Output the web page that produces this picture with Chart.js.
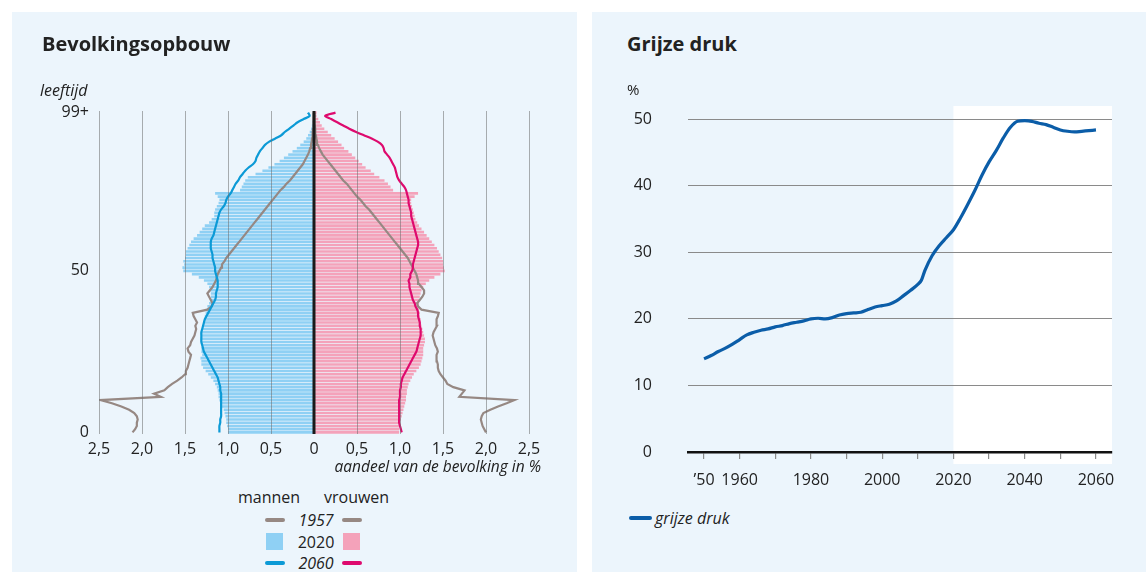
<!DOCTYPE html>
<html><head><meta charset="utf-8">
<script src="https://cdn.jsdelivr.net/npm/chart.js@4.4.1/dist/chart.umd.min.js"></script>
<style>
html,body{margin:0;padding:0;background:#fff;width:1146px;height:572px;overflow:hidden;font-family:"Open Sans",sans-serif;color:#222;}
.panel{position:absolute;background:#ECF5FC;}
#p1{left:12px;top:12px;width:565px;height:560px;}
#p2{left:592px;top:12px;width:554px;height:560px;}
.t{position:absolute;white-space:nowrap;line-height:1;}
.i{font-style:italic;}
canvas{position:absolute;}
.sw{position:absolute;}
</style></head><body>
<div class="panel" id="p1"></div><div class="panel" id="p2"></div>
<canvas id="c1" width="580" height="480" style="left:0;top:0;width:580px;height:480px"></canvas>
<canvas id="c2" width="554" height="440" style="left:592px;top:60px;width:554px;height:440px"></canvas>

<div class="t" style="left:42px;top:34px;font-size:20px;font-weight:700">Bevolkingsopbouw</div>
<div class="t" style="left:627px;top:34px;font-size:20px;font-weight:700">Grijze druk</div>
<div class="t i" style="left:40px;top:82px;font-size:16px">leeftijd</div>
<div class="t i" style="left:331px;top:459px;width:210px;text-align:right;font-size:15.5px">aandeel van de bevolking in %</div>
<div class="t" style="left:627px;top:82px;font-size:15px">%</div>

<div class="t" style="left:238px;top:489px;font-size:16px">mannen</div>
<div class="t" style="left:324px;top:489px;font-size:16px">vrouwen</div>
<div class="sw" style="left:265px;top:518px;width:20px;height:4px;background:#968883;border-radius:2px"></div>
<div class="t i" style="left:295px;top:512px;width:42px;text-align:center;font-size:16px">1957</div>
<div class="sw" style="left:342px;top:518px;width:20px;height:4px;background:#968883;border-radius:2px"></div>
<div class="sw" style="left:266px;top:533px;width:17px;height:17px;background:#8fd0f4"></div>
<div class="t" style="left:295px;top:534px;width:42px;text-align:center;font-size:16px">2020</div>
<div class="sw" style="left:343px;top:533px;width:17px;height:17px;background:#f4a2ba"></div>
<div class="sw" style="left:265px;top:561px;width:20px;height:4px;background:#0c9ad6;border-radius:2px"></div>
<div class="t i" style="left:295px;top:555px;width:42px;text-align:center;font-size:16px">2060</div>
<div class="sw" style="left:342px;top:561px;width:20px;height:4px;background:#de0a6e;border-radius:2px"></div>

<div class="sw" style="left:629px;top:516px;width:23px;height:4px;background:#0b5da8;border-radius:2px"></div>
<div class="t i" style="left:655px;top:510px;font-size:16px">grijze druk</div>

<script>
// ---------- Bevolkingsopbouw data (share of population in %, by age 0..99+) ----------
const ages = Array.from({length:100},(_, i)=> i===99 ? '99+' : String(i));
const ageTickLabels = {0:'0', 50:'50', 99:'99+'};

const men2020 = [1.00,1.00,1.01,1.02,1.02,1.03,1.04,1.05,1.07,1.08,
 1.10,1.11,1.11,1.12,1.13,1.15,1.17,1.20,1.23,1.26,
 1.29,1.31,1.31,1.32,1.30,1.31,1.31,1.30,1.31,1.32,
 1.31,1.31,1.30,1.29,1.29,1.28,1.27,1.26,1.25,1.24,
 1.22,1.21,1.20,1.20,1.21,1.22,1.24,1.28,1.34,1.42,
 1.52,1.53,1.51,1.52,1.50,1.49,1.49,1.47,1.45,1.43,
 1.40,1.36,1.33,1.30,1.27,1.22,1.19,1.16,1.16,1.15,
 1.13,1.11,1.10,1.12,1.15,0.86,0.84,0.82,0.80,0.77,
 0.68,0.60,0.53,0.46,0.40,0.35,0.30,0.25,0.20,0.16,
 0.12,0.09,0.07,0.05,0.035,0.025,0.018,0.012,0.008,0.01];
const women2020 = [0.99,0.99,1.00,1.00,1.01,1.02,1.03,1.04,1.05,1.06,
 1.07,1.07,1.08,1.08,1.09,1.10,1.12,1.14,1.16,1.19,
 1.22,1.24,1.25,1.26,1.27,1.27,1.27,1.28,1.29,1.29,
 1.28,1.27,1.26,1.25,1.24,1.24,1.23,1.23,1.22,1.22,
 1.22,1.22,1.23,1.24,1.25,1.27,1.30,1.34,1.40,1.47,
 1.52,1.51,1.50,1.50,1.49,1.47,1.45,1.43,1.40,1.37,
 1.34,1.31,1.28,1.25,1.22,1.20,1.18,1.17,1.16,1.15,
 1.14,1.13,1.13,1.17,1.21,0.92,0.89,0.86,0.82,0.76,
 0.70,0.66,0.60,0.56,0.52,0.48,0.44,0.40,0.35,0.32,
 0.28,0.24,0.20,0.16,0.12,0.09,0.07,0.05,0.03,0.03];
const men1957 = [2.11,2.08,2.06,2.06,2.05,2.06,2.09,2.15,2.24,2.35,
 2.48,1.78,1.86,1.74,1.70,1.65,1.59,1.54,1.50,1.49,
 1.47,1.46,1.45,1.44,1.43,1.46,1.47,1.44,1.43,1.41,
 1.39,1.38,1.37,1.38,1.36,1.38,1.40,1.41,1.24,1.19,
 1.18,1.20,1.22,1.24,1.21,1.18,1.16,1.14,1.13,1.12,
 1.10,1.08,1.07,1.04,1.02,0.99,0.96,0.93,0.90,0.87,
 0.84,0.81,0.78,0.75,0.72,0.69,0.66,0.63,0.60,0.57,
 0.54,0.51,0.48,0.45,0.42,0.39,0.35,0.32,0.28,0.25,
 0.22,0.19,0.16,0.13,0.11,0.09,0.07,0.055,0.045,0.035,
 0.028,0.022,0.018,0.014,0.01,0.008,0.006,0.004,0.003,0.002];
const women1957 = [2.00,1.98,1.96,1.95,1.94,1.95,1.97,2.05,2.14,2.24,
 2.33,1.69,1.72,1.75,1.62,1.55,1.53,1.50,1.47,1.45,
 1.44,1.44,1.43,1.42,1.43,1.44,1.43,1.41,1.40,1.39,
 1.38,1.39,1.41,1.43,1.42,1.43,1.44,1.45,1.25,1.21,
 1.20,1.23,1.26,1.28,1.28,1.25,1.22,1.21,1.20,1.19,
 1.17,1.15,1.13,1.11,1.09,1.06,1.03,1.00,0.97,0.94,
 0.91,0.88,0.85,0.82,0.79,0.76,0.73,0.70,0.67,0.64,
 0.60,0.57,0.54,0.50,0.47,0.44,0.41,0.38,0.34,0.31,
 0.28,0.25,0.22,0.19,0.16,0.13,0.10,0.08,0.06,0.045,
 0.035,0.028,0.022,0.017,0.013,0.01,0.008,0.006,0.004,0.003];
const men2060 = [1.10,1.10,1.10,1.09,1.09,1.08,1.08,1.08,1.08,1.08,
 1.08,1.08,1.08,1.09,1.09,1.10,1.11,1.12,1.14,1.16,
 1.18,1.20,1.22,1.24,1.26,1.28,1.29,1.30,1.31,1.31,
 1.31,1.31,1.30,1.29,1.28,1.27,1.25,1.23,1.21,1.19,
 1.17,1.15,1.14,1.14,1.13,1.12,1.12,1.12,1.13,1.14,
 1.15,1.15,1.16,1.17,1.18,1.18,1.19,1.20,1.20,1.20,
 1.19,1.17,1.16,1.15,1.14,1.13,1.12,1.11,1.10,1.08,
 1.05,1.03,1.02,1.00,0.97,0.95,0.93,0.91,0.88,0.86,
 0.83,0.80,0.76,0.71,0.68,0.67,0.65,0.63,0.60,0.57,
 0.52,0.45,0.38,0.34,0.29,0.24,0.19,0.12,0.05,0.07];
const women2060 = [1.02,1.01,1.00,0.99,0.99,0.99,0.99,0.99,0.99,0.99,
 0.99,1.00,1.00,1.00,1.01,1.01,1.02,1.03,1.05,1.07,
 1.09,1.11,1.13,1.15,1.17,1.19,1.20,1.21,1.22,1.23,
 1.24,1.24,1.24,1.23,1.23,1.22,1.21,1.21,1.20,1.18,
 1.17,1.15,1.14,1.13,1.12,1.11,1.11,1.10,1.12,1.12,
 1.14,1.15,1.15,1.16,1.17,1.18,1.19,1.20,1.21,1.21,
 1.20,1.19,1.18,1.17,1.16,1.15,1.14,1.13,1.13,1.12,
 1.11,1.10,1.10,1.09,1.08,1.07,1.05,1.02,0.99,0.97,
 0.96,0.95,0.94,0.92,0.90,0.88,0.85,0.82,0.81,0.79,
 0.74,0.67,0.58,0.49,0.41,0.34,0.27,0.20,0.13,0.25];
const pyramidTicks = [-2.5,-2,-1.5,-1,-0.5,0,0.5,1,1.5,2,2.5];

// ---------- Grijze druk data ----------
const years = [1950,1952,1954,1956,1958,1960,1962,1964,1966,1968,1970,1972,1974,1976,1978,
 1980,1982,1984,1986,1988,1990,1992,1994,1996,1998,2000,2002,2004,2006,2008,2010,2011,2012,
 2014,2016,2018,2020,2022,2024,2026,2028,2030,2032,2034,2036,2038,2040,2042,2044,2046,2048,
 2050,2052,2054,2056,2058,2060];
const grijzeDruk = [14.0,14.5,15.1,15.6,16.2,16.9,17.6,18.0,18.3,18.5,18.8,19.0,19.3,19.5,19.7,
 20.0,20.1,20.0,20.2,20.6,20.8,20.9,21.0,21.4,21.8,22.0,22.2,22.7,23.5,24.3,25.2,25.8,27.3,
 29.5,31.0,32.2,33.4,35.2,37.2,39.3,41.6,43.6,45.3,47.2,48.8,49.7,49.8,49.7,49.4,49.2,48.8,
 48.4,48.2,48.1,48.2,48.3,48.4];
const yearTickLabels = {1950:'\u201950',1960:'1960',1980:'1980',2000:'2000',2020:'2020',2040:'2040',2060:'2060'};
const projectionStart = 2020;

const FONT = '"Open Sans", sans-serif';
const TXT = '#222';

// ---------- Chart 1 ----------
const centerLine = {
  id:'centerLine',
  afterDatasetsDraw(chart){
    const {ctx, chartArea:a, scales:{x}} = chart;
    const px = x.getPixelForValue(0);
    ctx.save(); ctx.strokeStyle='#1a1a1a'; ctx.lineWidth=3;
    ctx.beginPath(); ctx.moveTo(px,a.top); ctx.lineTo(px,a.bottom); ctx.stroke(); ctx.restore();
  }
};
const neg = arr => arr.map(v => -v);
new Chart(document.getElementById('c1'), {
  type:'bar',
  data:{
    labels: ages,
    datasets:[
      {type:'line', label:'mannen 1957', data:neg(men1957), borderColor:'#968883', borderWidth:2.2, pointRadius:0, tension:0, order:1},
      {type:'line', label:'vrouwen 1957', data:women1957, borderColor:'#968883', borderWidth:2.2, pointRadius:0, tension:0, order:1},
      {type:'line', label:'mannen 2060', data:neg(men2060), borderColor:'#0c9ad6', borderWidth:2.2, pointRadius:0, tension:0.3, order:0},
      {type:'line', label:'vrouwen 2060', data:women2060, borderColor:'#de0a6e', borderWidth:2.2, pointRadius:0, tension:0.3, order:0},
      {label:'mannen 2020', data:neg(men2020), backgroundColor:'#8fd0f4', barPercentage:0.8, categoryPercentage:1, grouped:false, order:2},
      {label:'vrouwen 2020', data:women2020, backgroundColor:'#f4a2ba', barPercentage:0.8, categoryPercentage:1, grouped:false, order:2}
    ]
  },
  options:{
    indexAxis:'y', responsive:false, animation:false, devicePixelRatio:1,
    layout:{padding:{left:39, right:51, top:111, bottom:16}},
    plugins:{legend:{display:false}, tooltip:{enabled:false}},
    scales:{
      x:{
        min:-2.5, max:2.5,
        afterFit: s => { s.height = 30; },
        afterBuildTicks: s => { s.ticks = pyramidTicks.map(v => ({value:v})); },
        grid:{z:1, color: c => c.tick && c.tick.value === 0 ? 'rgba(0,0,0,0)' : 'rgba(110,110,110,0.55)', lineWidth:1, drawTicks:false},
        border:{display:false},
        ticks:{padding:6, color:TXT, font:{family:FONT, size:16}, maxRotation:0, autoSkip:false,
          callback: v => v === 0 ? '0' : Math.abs(v).toFixed(1).replace('.', ',')}
      },
      y:{
        reverse:true,
        afterFit: s => { s.width = 60; },
        grid:{display:false, drawTicks:false},
        border:{display:false},
        ticks:{padding:10, autoSkip:false, color:TXT, font:{family:FONT, size:16},
          callback: (v, i) => ageTickLabels[i] !== undefined ? ageTickLabels[i] : null}
      }
    }
  },
  plugins:[centerLine]
});

// ---------- Chart 2 ----------
const projectionShade = {
  id:'projectionShade',
  beforeDraw(chart){
    const {ctx, chartArea:a, scales:{x}} = chart;
    const px = x.getPixelForValue(projectionStart);
    ctx.save(); ctx.fillStyle='#ffffff';
    ctx.fillRect(px, a.top, a.right - px, a.bottom - a.top + 12);
    ctx.restore();
  }
};
new Chart(document.getElementById('c2'), {
  type:'line',
  data:{
    datasets:[{label:'grijze druk', data: years.map((y,i)=>({x:y, y:grijzeDruk[i]})),
      borderColor:'#0b5da8', borderWidth:3.2, pointRadius:0, tension:0.4, cubicInterpolationMode:'monotone'}]
  },
  options:{
    responsive:false, animation:false, devicePixelRatio:1,
    layout:{padding:{left:36, right:34, top:46, bottom:8}},
    plugins:{legend:{display:false}, tooltip:{enabled:false}},
    scales:{
      x:{
        type:'linear', min:1945.5, max:2064.5,
        afterFit: s => { s.height = 40; },
        afterBuildTicks: s => { s.ticks = years.filter(y => y % 10 === 0).map(v => ({value:v})); },
        grid:{drawOnChartArea:false, drawTicks:true, tickLength:7, color:'#8a8a8a', lineWidth:1.2},
        border:{display:true, color:'#111', width:2.5},
        ticks:{padding:12, color:TXT, font:{family:FONT, size:16}, maxRotation:0, autoSkip:false,
          callback: v => yearTickLabels[v] !== undefined ? yearTickLabels[v] : ''}
      },
      y:{
        min:0, max:52,
        afterFit: s => { s.width = 60; },
        afterBuildTicks: s => { s.ticks = [0,10,20,30,40,50].map(v => ({value:v})); },
        grid:{color: c => c.tick && c.tick.value === 0 ? 'rgba(0,0,0,0)' : '#8a8a8a', lineWidth:1, drawTicks:false},
        border:{display:false},
        ticks:{padding:36, color:TXT, font:{family:FONT, size:16}}
      }
    }
  },
  plugins:[projectionShade]
});
</script>
</body></html>
